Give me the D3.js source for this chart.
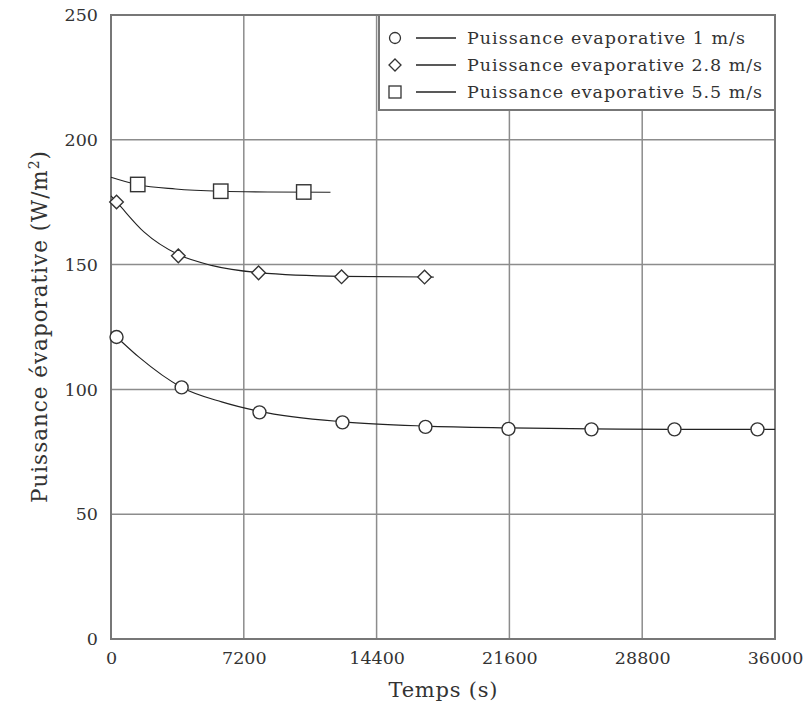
<!DOCTYPE html>
<html><head><meta charset="utf-8">
<script src="https://cdn.jsdelivr.net/npm/d3@7/dist/d3.min.js"></script>
<style>body{margin:0;background:#fff}svg{display:block}text{font-family:"DejaVu Serif","Liberation Serif",serif;fill:#333}</style>
</head><body><svg id="c" width="812" height="708"></svg>
<script>
// ---- data ----
const xTicks = [0, 7200, 14400, 21600, 28800, 36000];
const yTicks = [0, 50, 100, 150, 200, 250];
const seriesNames = ["Puissance evaporative 1 m/s", "Puissance evaporative 2.8 m/s", "Puissance evaporative 5.5 m/s"];
const markerTypes = ["circle", "diamond", "square"];
// measured points
const t1 = [300, 3830, 8050, 12550, 17050, 21550, 26050, 30550, 35050];
const p1 = [121.0, 100.8, 90.8, 86.8, 85.0, 84.2, 84.0, 84.0, 84.0];
const t2 = [300, 3650, 8000, 12500, 17000];
const p2 = [175.1, 153.5, 146.7, 145.1, 145.0];
const t3 = [1450, 5950, 10450];
const p3 = [182.1, 179.4, 179.1];
// fitted curves
const fitT1 = [0, 300, 1500, 3830, 6000, 8050, 12550, 17050, 21550, 26050, 30550, 36000];
const fitP1 = [123.0, 121.0, 113.0, 100.8, 95.0, 91.2, 87.0, 85.3, 84.6, 84.2, 84.0, 84.0];
const fitT2 = [0, 300, 1800, 3650, 5500, 8000, 12500, 17500];
const fitP2 = [177.5, 175.1, 163.0, 154.0, 149.6, 146.8, 145.3, 145.0];
const fitT3 = [0, 1450, 3500, 5950, 8500, 11900];
const fitP3 = [185.0, 182.0, 180.3, 179.4, 179.1, 179.0];

const W = 812, H = 708;
const m = {left: 111, top: 15, right: 37, bottom: 69};
const iw = W - m.left - m.right, ih = H - m.top - m.bottom;
const svg = d3.select("#c");
const g = svg.append("g").attr("transform", `translate(${m.left},${m.top})`);
const x = d3.scaleLinear().domain([0, 36000]).range([0, iw]);
const y = d3.scaleLinear().domain([0, 250]).range([ih, 0]);
const gridCol = "#8c8c8c";

// grid
g.append("g").selectAll("line").data(xTicks.slice(1, -1)).join("line")
  .attr("x1", d => x(d)).attr("x2", d => x(d)).attr("y1", 0).attr("y2", ih)
  .attr("stroke", gridCol).attr("stroke-width", 1.5);
g.append("g").selectAll("line").data(yTicks.slice(1, -1)).join("line")
  .attr("y1", d => y(d)).attr("y2", d => y(d)).attr("x1", 0).attr("x2", iw)
  .attr("stroke", gridCol).attr("stroke-width", 1.5);

// axes with d3 axis (labels only)
const xa = g.append("g").attr("transform", `translate(0,${ih})`)
  .call(d3.axisBottom(x).tickValues(xTicks).tickFormat(d3.format("d")).tickSize(0).tickPadding(13));
const ya = g.append("g")
  .call(d3.axisLeft(y).tickValues(yTicks).tickFormat(d3.format("d")).tickSize(0).tickPadding(13));
[xa, ya].forEach(a => {
  a.select(".domain").remove();
  a.selectAll("text").attr("font-family", '"DejaVu Serif",serif').attr("font-size", 17.5).attr("fill", "#333");
});

// frame
g.append("rect").attr("x", 0).attr("y", 0).attr("width", iw).attr("height", ih)
  .attr("fill", "none").attr("stroke", "#777").attr("stroke-width", 2);

// curves
const line = d3.line().x(d => x(d[0])).y(d => y(d[1])).curve(d3.curveMonotoneX);
const fits = [d3.zip(fitT1, fitP1), d3.zip(fitT2, fitP2), d3.zip(fitT3, fitP3)];
fits.forEach(f => g.append("path").attr("d", line(f)).attr("fill", "none")
  .attr("stroke", "#222").attr("stroke-width", 1.1));

function marker(sel, type, size) {
  if (type === "circle") return sel.append("circle").attr("r", size.r);
  if (type === "square") return sel.append("rect").attr("x", -size.s).attr("y", -size.s).attr("width", 2 * size.s).attr("height", 2 * size.s);
  return sel.append("path").attr("d", `M0,${-size.d}L${size.d},0L0,${size.d}L${-size.d},0Z`);
}
const sz = {r: 6.5, s: 7.2, d: 6.8};
const pts = [d3.zip(t1, p1), d3.zip(t2, p2), d3.zip(t3, p3)];
pts.forEach((ps, i) => {
  ps.forEach(p => {
    const mg = g.append("g").attr("transform", `translate(${x(p[0])},${y(p[1])})`);
    marker(mg, markerTypes[i], sz).attr("fill", "#fff").attr("stroke", "#333").attr("stroke-width", 1.4);
  });
});

// legend
const lg = svg.append("g");
const lx = 379, ly = 15, lw = 775 - 379, lh = 95;
lg.append("rect").attr("x", lx).attr("y", ly).attr("width", lw).attr("height", lh)
  .attr("fill", "#fff").attr("stroke", "#777").attr("stroke-width", 2);
const rowY = [38, 65, 92];
const textLen = [278, 295, 295];
const lsz = {r: 5.5, s: 6, d: 6};
seriesNames.forEach((nm, i) => {
  const mg = lg.append("g").attr("transform", `translate(395,${rowY[i]})`);
  marker(mg, markerTypes[i], lsz).attr("fill", "#fff").attr("stroke", "#333").attr("stroke-width", 1.3);
  lg.append("line").attr("x1", 416).attr("x2", 456).attr("y1", rowY[i]).attr("y2", rowY[i])
    .attr("stroke", "#222").attr("stroke-width", 1.3);
  lg.append("text").attr("x", 467).attr("y", rowY[i]).attr("dy", "0.35em")
    .attr("font-size", 17.5).attr("textLength", textLen[i]).attr("lengthAdjust", "spacing").text(nm);
});

// axis titles
svg.append("text").attr("x", 443).attr("y", 697).attr("text-anchor", "middle")
  .attr("font-size", 21).attr("textLength", 109).attr("lengthAdjust", "spacing").text("Temps (s)");
const yt = svg.append("text").attr("transform", "translate(47,327) rotate(-90)")
  .attr("text-anchor", "middle").attr("font-size", 21.5)
  .attr("textLength", 352).attr("lengthAdjust", "spacing");
yt.append("tspan").text("Puissance évaporative (W/m");
yt.append("tspan").attr("baseline-shift", "super").attr("font-size", 14).text("2");
yt.append("tspan").text(")");
</script></body></html>
